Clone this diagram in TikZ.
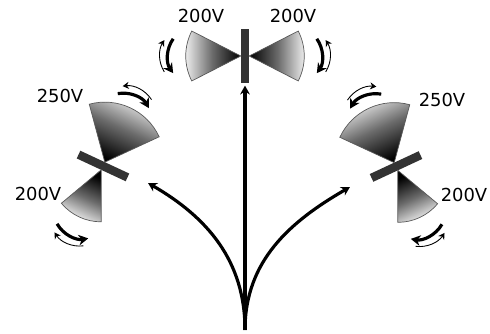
\documentclass[tikz,border=0pt]{standalone}
\usepackage{fontspec}
\setmainfont{DejaVu Sans}
\usetikzlibrary{arrows.meta}

\begin{document}
\begin{tikzpicture}[
    x=0.02cm, y=0.02cm,
    every node/.style={font=\fontsize{10.2}{12}\selectfont},
    bar/.style={fill=black!80, minimum width=1.08cm, minimum height=0.17cm,
        inner sep=0pt, outer sep=0pt},
    cone/.style={draw=black!65, line width=0.4pt, top color=black!4,
        bottom color=black, middle color=black!58, shading angle=#1},
    spin/.style={line width=1.8pt, -{Stealth[length=5.5pt,width=6pt]}},
    back/.style={line width=0.5pt, -{Stealth[length=3.5pt,width=4pt]}},
    shaft/.style={line width=1.8pt, -{Stealth[length=5pt,width=5.5pt]}},
]
\useasboundingbox (0,0) rectangle (490,334);

% plates
\node[bar, rotate=90] (t) at (245,278) {};
\node[bar, rotate=-25] (l) at (103,168) {};
\node[bar, rotate=25] (r) at (396,167.5) {};

% cones with their turning arrows
\foreach \a/\ax/\rad/\h/\s in {t.north/180/55/27/1, t.south/0/55/27/-1,
    l.north/65/60/40/-1, l.south/245/52/25/1,
    r.north/115/60/40/1, r.south/295/52/25/-1}{
  \pgfmathsetmacro{\sa}{\ax-90}
  \pgfmathsetmacro{\ta}{-35*(\s)}
  \pgfmathsetmacro{\tb}{35*(\s)}
  \pgfmathsetmacro{\ua}{32*(\s)}
  \pgfmathsetmacro{\ub}{-32*(\s)}
  \draw[cone=\sa] (\a) -- ++(\ax-\h:\rad)
      arc[start angle=\ax-\h, end angle=\ax+\h, radius=\rad] -- cycle;
  \begin{scope}[shift={(\a)}, rotate=\ax]
    \draw[spin] ([shift={(43,0)}]\ta:30) arc[start angle=\ta, end angle=\tb, radius=30];
    \draw[back] ([shift={(51,0)}]\ua:30) arc[start angle=\ua, end angle=\ub, radius=30];
  \end{scope}
}

% voltages
\node (tl) at (201,318) {200V};
\node (tr) at (293,318) {200V};
\node (lu) at (60,238) {250V};
\node (ld) at (38,140) {200V};
\node (ru) at (442,234) {250V};
\node (rd) at (464,139) {200V};

% paths
\coordinate (base) at (245,4);
\coordinate (lt) at (148,151);
\coordinate (rt) at (350,147);
\draw[shaft, shorten >=1.5pt] (base) -- (t.west);
\draw[shaft] (base) to[out=90, in=-30] (lt);
\draw[shaft] (base) to[out=90, in=210] (rt);
\end{tikzpicture}
\end{document}
